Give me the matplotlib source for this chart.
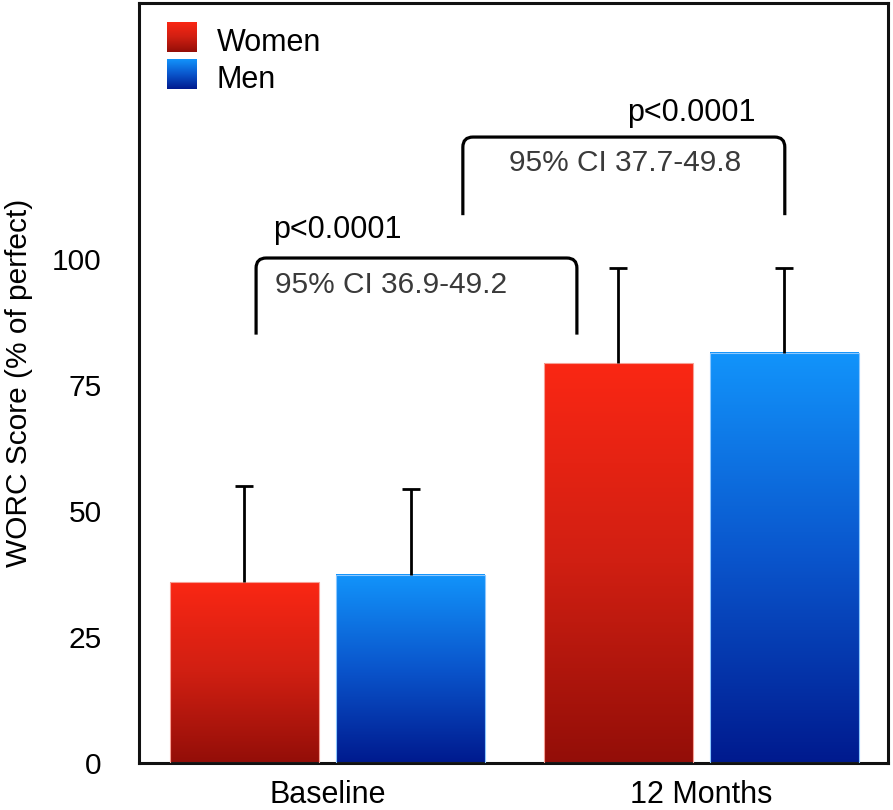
import numpy as np
import matplotlib
matplotlib.use("Agg")
import matplotlib.pyplot as plt
from matplotlib.colors import LinearSegmentedColormap
from matplotlib.path import Path
from matplotlib.patches import PathPatch

plt.rcParams['font.family'] = ['Liberation Sans', 'DejaVu Sans']

# data
groups = ['Baseline', '12 Months']
series = ['Women', 'Men']
women = [35.9, 79.3]
men = [37.4, 81.4]
women_sd = [19.1, 19.0]
men_sd = [16.9, 16.9]
yticks = [0, 25, 50, 75, 100]
p_texts = ['p<0.0001', 'p<0.0001']
ci_texts = ['95% CI 36.9-49.2', '95% CI 37.7-49.8']

red_map = LinearSegmentedColormap.from_list('r', ['#930e08', '#d01f12', '#fa2714'])
blue_map = LinearSegmentedColormap.from_list('b', ['#001a8e', '#0a55cc', '#1294fb'])
grad = np.linspace(0, 1, 256).reshape(-1, 1)

fig = plt.figure(figsize=(8.93, 8.10), dpi=100)
ax = fig.add_axes([0.1557, 0.058, 0.8387, 0.9383])

x = np.arange(len(groups))
w = 0.398
off = 0.222

def grad_bars(xpos, vals, sd, cmap, edge):
    bars = ax.bar(xpos, vals, w, color='none', edgecolor=edge, linewidth=0.8, zorder=3)
    for b in bars:
        x0 = b.get_x()
        ax.imshow(grad, cmap=cmap, origin='lower', aspect='auto', zorder=2,
                  extent=[x0, x0 + b.get_width(), 0, b.get_height()])
    eb = ax.errorbar(xpos, vals, yerr=[np.zeros(len(vals)), sd], fmt='none', ecolor='black',
                     elinewidth=2, capsize=6.5, capthick=2, zorder=4)
    # only the upper cap is shown
    eb[1][0].set_visible(False)

grad_bars(x - off, women, women_sd, red_map, '#f7a095')
grad_bars(x + off, men, men_sd, blue_map, '#8cc8ff')

# significance brackets
def bracket(x0, x1, ybot, ytop, rx=0.027, ry=2.0):
    verts = [(x0, ybot), (x0, ytop - ry), (x0, ytop), (x0 + rx, ytop),
             (x1 - rx, ytop), (x1, ytop), (x1, ytop - ry), (x1, ybot)]
    codes = [Path.MOVETO, Path.LINETO, Path.CURVE3, Path.CURVE3,
             Path.LINETO, Path.CURVE3, Path.CURVE3, Path.LINETO]
    ax.add_patch(PathPatch(Path(verts, codes), fill=False, lw=2.3, edgecolor='black',
                           capstyle='butt', zorder=5))

bracket(-0.191, 0.667, 85.0, 100.2)
bracket(0.362, 1.223, 108.7, 124.2)

ax.text(-0.145, 105.8, p_texts[0], fontsize=22, ha='left', va='center', color='black')
ax.text(-0.140, 94.8, ci_texts[0], fontsize=21.5, ha='left', va='center', color='#3a3a3a')
ax.text(0.801, 129.0, p_texts[1], fontsize=22, ha='left', va='center', color='black')
ax.text(0.486, 119.0, ci_texts[1], fontsize=21.5, ha='left', va='center', color='#3a3a3a')

# legend with gradient squares
legend_y = [(0.9355, 0.9737, 0.948), (0.8868, 0.925, 0.899)]
for name, cmap, (y0, y1, yc) in zip(series, [red_map, blue_map], legend_y):
    ax.imshow(grad, cmap=cmap, origin='lower', aspect='auto', zorder=5,
              extent=[0.0374, 0.0774, y0, y1], transform=ax.transAxes)
    ax.text(0.104, yc, name, transform=ax.transAxes, fontsize=22, ha='left', va='center')

ax.set_xlim(-0.504, 1.499)
ax.set_ylim(0, 150.8)
ax.set_xticks(x)
ax.set_xticklabels(groups, fontsize=22)
ax.set_yticks(yticks)
ax.set_yticklabels([str(t) for t in yticks], fontsize=21.5)
ax.tick_params(axis='both', length=0)
ax.tick_params(axis='y', pad=27)
ax.tick_params(axis='x', pad=12)
ax.set_ylabel('WORC Score (% of perfect)', fontsize=21.5)
ax.yaxis.set_label_coords(-0.141, 0.5)
for s in ax.spines.values():
    s.set_linewidth(2.2)
    s.set_color('#111111')

fig.savefig('out.png', dpi=100)
